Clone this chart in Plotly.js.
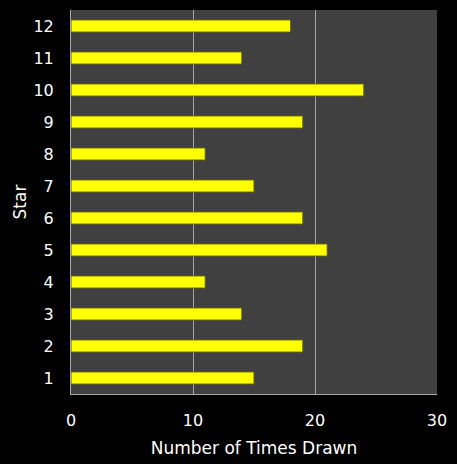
<!DOCTYPE html>
<html>
<head>
<meta charset="utf-8">
<script src="https://cdn.plot.ly/plotly-3.0.1.min.js"></script>
<style>
  html, body { margin: 0; padding: 0; background: #000; }
</style>
</head>
<body>
<div id="myDiv" style="width:457px;height:464px;"></div>
<script>
// stars 1..12 and how often each was drawn
var stars = ["1", "2", "3", "4", "5", "6", "7", "8", "9", "10", "11", "12"];
var timesDrawn = [15, 19, 14, 11, 21, 19, 15, 11, 19, 24, 14, 18];
var xTicks = [0, 10, 20, 30];

var data = [
  {
    type: "bar",
    orientation: "h",
    y: stars,
    x: timesDrawn,
    marker: {
      color: "#ffff00",
      line: { color: "#5e5e12", width: 1 }
    },
    hoverinfo: "x+y"
  }
];

var layout = {
  width: 457,
  height: 464,
  margin: { l: 71, r: 20, t: 10, b: 70 },
  paper_bgcolor: "#000000",
  plot_bgcolor: "#404040",
  font: { color: "#ffffff", family: "DejaVu Sans", size: 16 },
  bargap: 0.62,
  showlegend: false,
  xaxis: {
    range: [0, 30],
    tickvals: xTicks,
    ticktext: xTicks.map(String),
    showgrid: true,
    gridcolor: "#a6a6a6",
    gridwidth: 1,
    zeroline: false,
    showline: true,
    linecolor: "#a6a6a6",
    linewidth: 1,
    ticks: "",
    ticklabelstandoff: 12,
    tickfont: { size: 16, color: "#ffffff" },
    title: { text: "Number of Times Drawn", font: { size: 17, color: "#ffffff" }, standoff: 12 }
  },
  yaxis: {
    type: "category",
    categoryorder: "array",
    categoryarray: stars,
    showgrid: false,
    zeroline: false,
    showline: true,
    linecolor: "#a6a6a6",
    linewidth: 1,
    ticks: "",
    ticklabelstandoff: 13,
    tickfont: { size: 16, color: "#ffffff" },
    title: { text: "Star", font: { size: 17, color: "#ffffff" }, standoff: 2 }
  }
};

Plotly.newPlot("myDiv", data, layout, { displayModeBar: false, staticPlot: true });
</script>
</body>
</html>
